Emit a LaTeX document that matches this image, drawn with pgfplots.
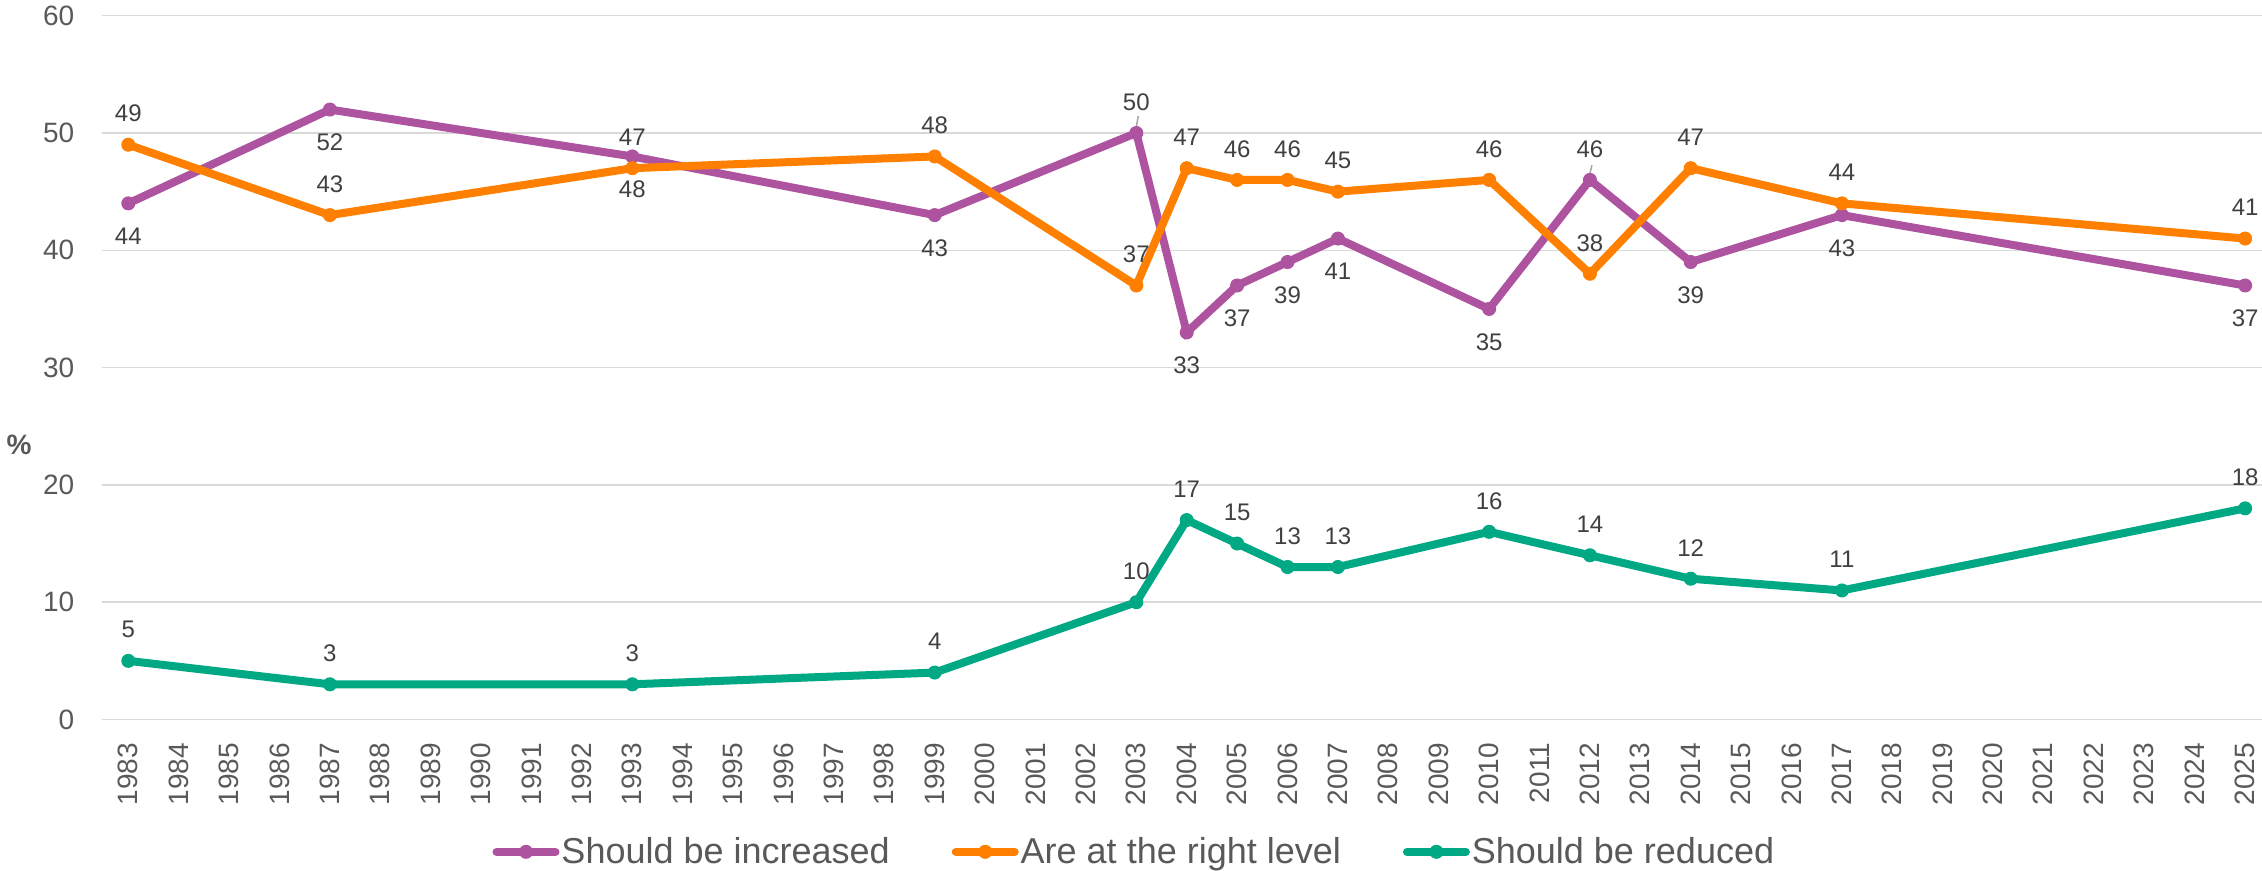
\documentclass[border=0pt]{standalone}
\usepackage{fontspec}
\setmainfont{Liberation Sans}
\usepackage{pgfplots}
\pgfplotsset{compat=1.18}
\usepackage{pgfplotstable}

\definecolor{cinc}{RGB}{174,83,160}
\definecolor{cok}{RGB}{255,128,0}
\definecolor{cred}{RGB}{0,168,132}
\definecolor{tickgray}{RGB}{89,89,89}
\definecolor{labgray}{RGB}{64,64,64}
\definecolor{gridgray}{RGB}{217,217,217}
\definecolor{leadgray}{RGB}{166,166,166}

\pgfplotstableread{
year val off
1983 44 -16.5
1987 52 -16.5
1993 48 -16.5
1999 43 -16.5
2003 50 15.5
2004 33 -16.5
2005 37 -16.5
2006 39 -16.5
2007 41 -16.5
2010 35 -16.5
2012 46 15.5
2014 39 -16.5
2017 43 -16.5
2025 37 -16.5
}\tinc

\pgfplotstableread{
year val off
1983 49 15.5
1987 43 15.5
1993 47 15.5
1999 48 15.5
2003 37 15.5
2004 47 15.5
2005 46 15.5
2006 46 15.5
2007 45 15.5
2010 46 15.5
2012 38 15.5
2014 47 15.5
2017 44 15.5
2025 41 15.5
}\tok

\pgfplotstableread{
year val off
1983 5 15.5
1987 3 15.5
1993 3 15.5
1999 4 15.5
2003 10 15.5
2004 17 15.5
2005 15 15.5
2006 13 15.5
2007 13 15.5
2010 16 15.5
2012 14 15.5
2014 12 15.5
2017 11 15.5
2025 18 15.5
}\tred

\begin{document}
\begin{tikzpicture}
\begin{axis}[
  name=ax,
  scale only axis,
  width=1080.15pt, height=351.9pt,
  xmin=1982.472, xmax=2025.335,
  ymin=0, ymax=60,
  ytick={0,10,...,60},
  xtick={1983,1984,...,2025},
  /pgf/number format/assume math mode=true,
  /pgf/number format/1000 sep={},
  axis line style={draw=none},
  major tick length=0pt,
  tick style={draw=none},
  ymajorgrids,
  major grid style={draw=gridgray, line width=0.75pt},
  tick label style={font=\fontsize{14}{16}\selectfont, text=tickgray},
  xticklabel style={rotate=90, anchor=east, inner sep=0pt},
  yticklabel style={inner sep=0pt},
  xticklabel shift=11.5pt,
  yticklabel shift=13.5pt,
  ylabel={\textbf{\%}},
  ylabel style={at={(rel axis cs:-0.0383,0.39)}, anchor=center, rotate=-90,
    font=\fontsize{14}{16}\selectfont, text=tickgray},
  clip=false,
  nodes near coords,
  visualization depends on={\thisrow{off} \as \off},
  every node near coord/.append style={anchor=center, yshift=\off pt,
    font=\fontsize{12}{14}\selectfont, text=labgray},
  every axis plot/.append style={line width=4pt, mark=*, mark size=3.25pt,
    mark options={solid, line width=0.5pt}},
  legend columns=3,
  legend style={at={(0.478,-0.188)}, anchor=center, draw=none, fill=none,
    font=\fontsize{18}{21}\selectfont, text=tickgray,
    nodes={inner xsep=1pt, inner ysep=2pt},
    /tikz/every even column/.append style={column sep=30pt}},
  legend image code/.code={\draw[mark repeat=2, mark phase=2, line cap=round]
    plot coordinates {(0pt,0pt) (14.75pt,0pt) (29.5pt,0pt)};},
]
\draw[leadgray, line width=0.75pt] (axis cs:2003,50.55) -- (axis cs:2003.04,51.45);
\draw[leadgray, line width=0.75pt] (axis cs:2012,46.55) -- (axis cs:2012.04,47.25);
\addplot[color=cinc] table[x=year, y=val] {\tinc};
\addlegendentry{Should be increased}
\addplot[color=cok] table[x=year, y=val] {\tok};
\addlegendentry{Are at the right level}
\addplot[color=cred] table[x=year, y=val] {\tred};
\addlegendentry{Should be reduced}
\end{axis}
\pgfresetboundingbox
\useasboundingbox ([shift={(-50.85pt,-75.75pt)}]ax.south west) rectangle ([shift={(0pt,7.85pt)}]ax.north east);
\end{tikzpicture}
\end{document}
